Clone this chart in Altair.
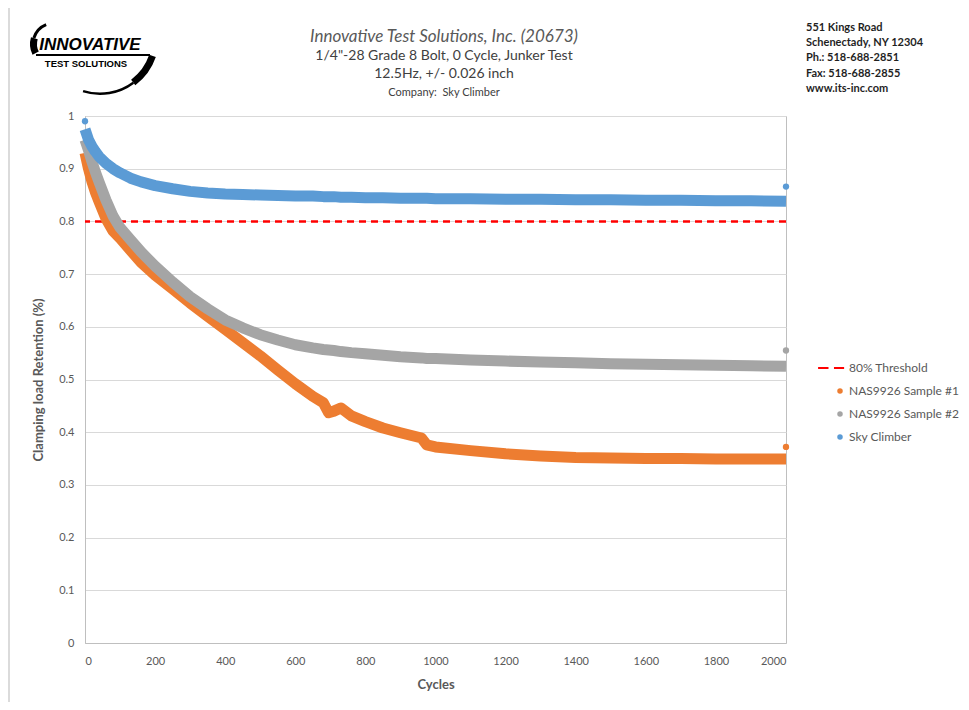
import altair as alt
import pandas as pd

# ---------------- data ----------------
cycles = [0, 10, 20, 30, 40, 60, 80, 100, 130, 160, 200, 250, 300, 350, 400, 450,
          500, 550, 600, 650, 680, 695, 710, 730, 760, 800, 850, 900, 960, 975,
          1000, 1100, 1200, 1300, 1400, 1500, 1600, 1700, 1800, 1900, 2000]

sample1 = [0.930, 0.900, 0.875, 0.855, 0.838, 0.805, 0.782, 0.768, 0.745, 0.722,
           0.698, 0.672, 0.645, 0.620, 0.595, 0.570, 0.545, 0.518, 0.492, 0.468,
           0.456, 0.437, 0.440, 0.446, 0.431, 0.420, 0.408, 0.399, 0.389, 0.376,
           0.372, 0.365, 0.359, 0.355, 0.352, 0.351, 0.350, 0.350, 0.349, 0.349,
           0.349]

sample2 = [0.955, 0.935, 0.913, 0.893, 0.875, 0.840, 0.810, 0.788, 0.765, 0.742,
           0.715, 0.685, 0.657, 0.634, 0.613, 0.598, 0.585, 0.575, 0.566, 0.560,
           0.557, 0.556, 0.555, 0.553, 0.551, 0.549, 0.546, 0.543, 0.541, 0.540,
           0.540, 0.537, 0.535, 0.533, 0.532, 0.530, 0.529, 0.528, 0.527, 0.526,
           0.525]

sky_climber = [0.975, 0.955, 0.942, 0.932, 0.923, 0.910, 0.900, 0.892, 0.882, 0.875,
               0.868, 0.862, 0.857, 0.854, 0.852, 0.851, 0.850, 0.849, 0.848, 0.848,
               0.847, 0.847, 0.847, 0.846, 0.846, 0.845, 0.845, 0.844, 0.844, 0.844,
               0.843, 0.843, 0.842, 0.842, 0.841, 0.841, 0.840, 0.840, 0.839, 0.839,
               0.838]

# isolated dots (first / last readings)
dot_series = ["Sky Climber", "NAS9926 Sample #1", "NAS9926 Sample #2", "Sky Climber"]
dot_cycles = [0, 2000, 2000, 2000]
dot_values = [0.990, 0.372, 0.555, 0.866]

threshold = 0.8

series_names = ["80% Threshold", "NAS9926 Sample #1", "NAS9926 Sample #2", "Sky Climber"]
series_colors = ["#FF0000", "#ED7D31", "#A5A5A5", "#5B9BD5"]

x_ticks = list(range(0, 2001, 200))
y_ticks = [0, 0.1, 0.2, 0.3, 0.4, 0.5, 0.6, 0.7, 0.8, 0.9, 1.0]

header_lines = ["Innovative  Test Solutions, Inc. (20673)",
                "1/4\"-28 Grade 8 Bolt, 0 Cycle, Junker Test",
                "12.5Hz, +/- 0.026 inch",
                "Company:\u00a0\u00a0Sky Climber"]
address_lines = ["551 Kings Road", "Schenectady, NY 12304", "Ph.: 518-688-2851",
                 "Fax: 518-688-2855", "www.its-inc.com"]

# ---------------- tables ----------------
rows = []
for name, vals in [("NAS9926 Sample #1", sample1), ("NAS9926 Sample #2", sample2),
                   ("Sky Climber", sky_climber)]:
    for c, v in zip(cycles, vals):
        rows.append({"series": name, "cycles": c, "value": v})
df = pd.DataFrame(rows)
dots = pd.DataFrame({"series": dot_series, "cycles": dot_cycles, "value": dot_values})
thr = pd.DataFrame({"value": [threshold]})

FONT = "Lato"
GREY = "#595959"
W, H = 701, 527
X0, Y0 = 85, 116  # page position of the plot origin (for decorations only)

xscale = alt.Scale(domain=[0, 2000], nice=False)
yscale = alt.Scale(domain=[0, 1], nice=False)
color_scale = alt.Scale(domain=series_names, range=series_colors)
dash_path = "M-8,-0.4H-4.2V0.4H-8Z M-2.2,-0.4H1.5V0.4H-2.2Z"
shape_scale = alt.Scale(domain=series_names, range=[dash_path, "circle", "circle", "circle"])

legend = alt.Legend(title=None, orient="none", legendX=749, legendY=246,
                    labelFont=FONT, labelFontSize=12, labelColor=GREY,
                    symbolSize=30, symbolStrokeWidth=0, labelOffset=3,
                    rowPadding=11, padding=0, labelLimit=200)

xaxis = alt.Axis(title="Cycles", values=x_ticks, format="d", grid=False, ticks=False,
                 labelFont=FONT, labelFontSize=11, labelColor=GREY, labelPadding=12,
                 titleFont=FONT, titleFontSize=13, titleFontWeight="bold",
                 titleColor=GREY, titlePadding=12, domainColor="#BFBFBF")
yaxis = alt.Axis(title="Clamping load Retention (%)", values=y_ticks, format="~g",
                 grid=True, gridColor="#D9D9D9", ticks=False,
                 labelFont=FONT, labelFontSize=11, labelColor=GREY, labelPadding=11,
                 titleFont=FONT, titleFontSize=13, titleFontWeight="bold",
                 titleColor=GREY, titlePadding=13, domainColor="#BFBFBF")

base = alt.Chart(df)

one = pd.DataFrame({"k": [1]})
frame = alt.Chart(one).mark_rect(
    filled=False, stroke="#CFCFCF", strokeWidth=1.5).encode(
    x=alt.value(9 - X0), x2=alt.value(975 - X0), y=alt.value(5 - Y0), y2=alt.value(705 - Y0))

rule = alt.Chart(thr).mark_rule(color="#FF0000", strokeDash=[7, 5], strokeWidth=2.5).encode(
    y=alt.Y("value:Q", scale=yscale, axis=yaxis))

line_layers = []
for name, col in zip(series_names[1:], series_colors[1:]):
    line_layers.append(
        base.transform_filter(alt.datum.series == name).mark_line(
            strokeWidth=11, strokeCap="butt", strokeJoin="round", color=col).encode(
            x=alt.X("cycles:Q", scale=xscale, axis=xaxis),
            y=alt.Y("value:Q", scale=yscale, axis=yaxis)))

points = alt.Chart(dots).mark_point(filled=True, size=40, opacity=1).encode(
    x=alt.X("cycles:Q", scale=xscale, axis=xaxis),
    y=alt.Y("value:Q", scale=yscale, axis=yaxis),
    color=alt.Color("series:N", scale=color_scale, legend=legend),
    shape=alt.Shape("series:N", scale=shape_scale, legend=legend))


def txt(t, x, y, size, weight="normal", style="normal", color=GREY, align="center",
        font=FONT):
    return alt.Chart(pd.DataFrame({"t": [t]})).mark_text(
        font=font, fontSize=size, fontWeight=weight, fontStyle=style, color=color,
        align=align, baseline="middle").encode(
        text="t:N", x=alt.value(x - X0), y=alt.value(y - Y0))


header = [
    txt(header_lines[0], 444, 37, 17, style="italic", color="#595959"),
    txt(header_lines[1], 444, 56, 14, color="#404040"),
    txt(header_lines[2], 444, 74, 14, color="#404040"),
    txt(header_lines[3], 444, 93, 11, color="#404040"),
]
addr = [txt(a, 806, 28 + 15.2 * i, 11, weight="bold", color="#1F1F1F", align="left")
        for i, a in enumerate(address_lines)]

logo = [
    txt("INNOVATIVE", 90, 45, 17, weight="bold", style="italic", color="#000000",
        font="Liberation Sans"),
    txt("TEST SOLUTIONS", 86, 64, 9.5, weight="bold", color="#000000",
        font="Liberation Sans"),
]


def arc(cx, cy, r_out, r_in, t0, t1):
    return alt.Chart(one).mark_arc(color="#000000").encode(
        x=alt.value(cx - X0), y=alt.value(cy - Y0), radius=alt.value(r_out),
        radius2=alt.value(r_in), theta=alt.value(t0), theta2=alt.value(t1))


swoosh = [
    arc(54, 44, 24, 17, 4.25, 5.0),
    arc(54, 44, 22.5, 19.5, 5.0, 5.9),
    arc(100, 38, 59, 52, 1.90, 2.5),
    arc(100, 38, 57, 54.5, 2.5, 3.45),
    alt.Chart(one).mark_rule(color="#000000", strokeWidth=2).encode(
        x=alt.value(36 - X0), x2=alt.value(150 - X0), y=alt.value(55 - Y0)),
]

chart = alt.layer(frame, rule, *line_layers, points, *header, *addr, *logo, *swoosh).properties(
    width=W, height=H,
    autosize=alt.AutoSizeParams(type="none"),
    padding={"left": 77, "top": 108, "right": 175, "bottom": 59},
    background="white",
).configure_view(stroke="#BFBFBF", strokeWidth=1)

chart.save("out.html", embed_options={"renderer": "svg", "actions": False})
